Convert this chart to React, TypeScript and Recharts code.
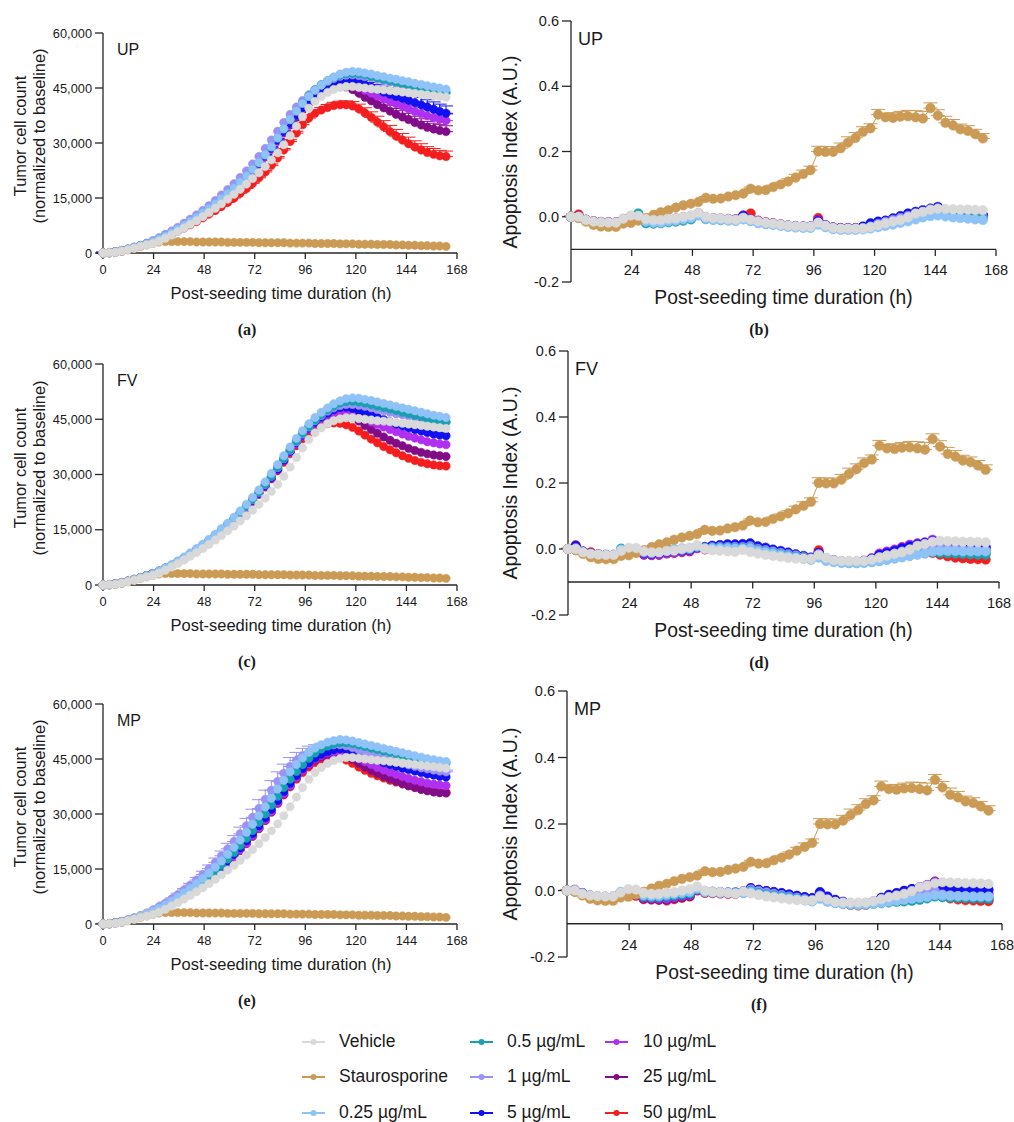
import React from "react";
import { ErrorBar, Line, LineChart, ReferenceLine, XAxis, YAxis } from "recharts";

// scan times (h), one image roughly every 2.96 h
const TIMES = [
  0, 3.0, 5.9, 8.9, 11.8, 14.8, 17.8, 20.7, 23.7, 26.6, 29.6, 32.6, 35.5, 38.5,
  41.4, 44.4, 47.4, 50.3, 53.3, 56.2, 59.2, 62.2, 65.1, 68.1, 71.0, 74.0, 77.0, 79.9,
  82.9, 85.8, 88.8, 91.8, 94.7, 97.7, 100.6, 103.6, 106.6, 109.5, 112.5, 115.4, 118.4, 121.4,
  124.3, 127.3, 130.2, 133.2, 136.2, 139.1, 142.1, 145.0, 148.0, 151.0, 153.9, 156.9, 159.8, 162.8,
];

const X_TICKS_G = [0, 24, 48, 72, 96, 120, 144, 168];
const X_TICKS_A = [24, 48, 72, 96, 120, 144, 168];
const Y_TICKS_G = [0, 15000, 30000, 45000, 60000];
const Y_TICKS_A = [-0.2, 0, 0.2, 0.4, 0.6];

const SERIES = [
  { key: "veh", name: "Vehicle", color: "#d9d9d9" },
  { key: "sts", name: "Staurosporine", color: "#cb9a55" },
  { key: "c025", name: "0.25 µg/mL", color: "#8fc3f7" },
  { key: "c05", name: "0.5 µg/mL", color: "#17a0b0" },
  { key: "c1", name: "1 µg/mL", color: "#9a92f6" },
  { key: "c5", name: "5 µg/mL", color: "#1010f0" },
  { key: "c10", name: "10 µg/mL", color: "#b02ff0" },
  { key: "c25", name: "25 µg/mL", color: "#820c88" },
  { key: "c50", name: "50 µg/mL", color: "#f41e1e" },
];
// highest dose drawn first, vehicle ends up on top
const DRAW_ORDER = ["c50", "c25", "c10", "c5", "c1", "c05", "c025", "sts", "veh"];

// ---- tumour cell count, thousands of cells ----
const VEH_G = [
  0, 0.1, 0.2, 0.5, 0.9, 1.3, 1.8, 2.2, 2.6, 3.2, 4.0, 4.9, 5.8, 6.8,
  7.8, 8.8, 9.9, 11.0, 12.2, 13.4, 14.7, 16.0, 17.4, 18.8, 20.3, 21.9, 23.6, 25.4,
  27.3, 29.5, 32.0, 34.6, 37.2, 39.5, 41.3, 42.7, 43.8, 44.6, 45.1, 45.4, 45.4, 45.2,
  45.0, 44.8, 44.6, 44.5, 44.3, 44.1, 43.9, 43.7, 43.5, 43.3, 43.1, 42.9, 42.7, 42.5,
];
const STS_G = [
  0, 0.1, 0.2, 0.5, 0.9, 1.3, 1.8, 2.2, 2.6, 3.0, 3.1, 3.1, 3.1, 3.1,
  3.1, 3.0, 3.0, 3.0, 3.0, 3.0, 2.9, 2.9, 2.9, 2.9, 2.9, 2.8, 2.8, 2.8,
  2.8, 2.8, 2.7, 2.7, 2.7, 2.7, 2.6, 2.6, 2.6, 2.6, 2.5, 2.5, 2.5, 2.4,
  2.4, 2.4, 2.3, 2.3, 2.3, 2.2, 2.2, 2.1, 2.1, 2.0, 2.0, 1.9, 1.9, 1.8,
];

const UP_G_025 = [
  0, 0.1, 0.3, 0.6, 1.0, 1.5, 2.0, 2.5, 3.1, 3.8, 4.6, 5.5, 6.5, 7.5,
  8.6, 9.7, 10.9, 12.1, 13.4, 14.8, 16.2, 17.7, 19.3, 21.0, 22.8, 24.7, 26.8, 29.0,
  31.4, 33.9, 36.4, 38.7, 40.8, 42.7, 44.4, 45.8, 47.0, 48.0, 48.8, 49.3, 49.5, 49.4,
  49.1, 48.8, 48.4, 48.1, 47.7, 47.4, 47.0, 46.7, 46.3, 46.0, 45.6, 45.3, 45.0, 44.7,
];
const UP_G_05 = [
  0, 0.1, 0.3, 0.6, 1.0, 1.5, 2.0, 2.5, 3.1, 3.8, 4.6, 5.4, 6.4, 7.4,
  8.5, 9.6, 10.8, 12.0, 13.3, 14.7, 16.1, 17.6, 19.2, 20.9, 22.7, 24.6, 26.7, 28.9,
  31.3, 33.8, 36.3, 38.7, 40.9, 42.8, 44.5, 45.9, 47.0, 47.9, 48.5, 48.9, 49.0, 48.9,
  48.6, 48.2, 47.8, 47.4, 47.0, 46.6, 46.2, 45.8, 45.4, 45.0, 44.6, 44.3, 44.0, 43.7,
];
const UP_G_1 = [
  0, 0.1, 0.3, 0.7, 1.1, 1.6, 2.1, 2.7, 3.4, 4.2, 5.1, 6.0, 7.0, 8.1,
  9.2, 10.4, 11.6, 12.9, 14.3, 15.8, 17.3, 18.9, 20.6, 22.4, 24.3, 26.3, 28.5, 30.8,
  33.2, 35.6, 37.8, 39.8, 41.6, 43.2, 44.6, 45.8, 46.8, 47.6, 48.2, 48.5, 48.6, 48.4,
  48.1, 47.8, 47.4, 47.0, 46.6, 46.2, 45.8, 45.5, 45.2, 44.9, 44.6, 44.3, 44.1, 43.9,
];
const UP_G_5 = [
  0, 0.1, 0.3, 0.6, 1.0, 1.5, 2.0, 2.5, 3.1, 3.8, 4.6, 5.4, 6.3, 7.3,
  8.4, 9.5, 10.7, 11.9, 13.2, 14.6, 16.0, 17.5, 19.1, 20.8, 22.6, 24.5, 26.5, 28.6,
  30.8, 33.1, 35.4, 37.6, 39.7, 41.5, 43.0, 44.3, 45.4, 46.3, 46.9, 47.1, 46.9, 46.4,
  45.8, 45.2, 44.5, 43.9, 43.3, 42.7, 42.2, 41.6, 41.0, 40.4, 39.8, 39.2, 38.6, 38.1,
];
const UP_G_10 = [
  0, 0.1, 0.3, 0.6, 1.0, 1.5, 2.0, 2.5, 3.1, 3.7, 4.5, 5.3, 6.2, 7.2,
  8.2, 9.3, 10.5, 11.7, 13.0, 14.4, 15.8, 17.3, 18.9, 20.6, 22.4, 24.3, 26.3, 28.4,
  30.6, 32.9, 35.2, 37.4, 39.4, 41.2, 42.7, 44.0, 45.0, 45.7, 46.1, 46.1, 45.7, 45.1,
  44.4, 43.6, 42.8, 42.1, 41.4, 40.7, 40.0, 39.3, 38.6, 38.0, 37.4, 36.9, 36.5, 36.1,
];
const UP_G_25 = [
  0, 0.1, 0.3, 0.6, 1.0, 1.5, 2.0, 2.5, 3.0, 3.7, 4.4, 5.2, 6.1, 7.1,
  8.1, 9.2, 10.4, 11.6, 12.9, 14.3, 15.7, 17.2, 18.8, 20.5, 22.3, 24.2, 26.2, 28.3,
  30.5, 32.7, 34.9, 37.0, 39.0, 40.8, 42.4, 43.7, 44.7, 45.3, 45.5, 45.3, 44.6, 43.6,
  42.5, 41.5, 40.5, 39.6, 38.7, 37.8, 37.1, 36.4, 35.6, 34.9, 34.3, 33.8, 33.4, 33.1,
];
const UP_G_50 = [
  0, 0.1, 0.2, 0.5, 0.9, 1.3, 1.8, 2.3, 2.8, 3.4, 4.2, 5.0, 5.9, 6.8,
  7.7, 8.6, 9.6, 10.6, 11.6, 12.7, 13.8, 15.0, 16.3, 17.6, 19.0, 20.5, 22.1, 23.9,
  25.9, 28.1, 30.4, 32.7, 35.0, 36.8, 38.1, 39.0, 39.7, 40.2, 40.4, 40.4, 40.1, 39.3,
  38.2, 37.0, 35.7, 34.4, 33.1, 31.9, 30.8, 29.8, 28.9, 28.1, 27.4, 26.9, 26.5, 26.3,
];
// upper SEM (thousands) where the caps show in panel (a)
const UP_G_5_ERR = [
  0.2, 0.2, 0.2, 0.2, 0.2, 0.2, 0.2, 0.2, 0.2, 0.2, 0.2, 0.2, 0.2, 0.2,
  0.2, 0.2, 0.2, 0.2, 0.3, 0.3, 0.3, 0.3, 0.3, 0.3, 0.3, 0.3, 0.4, 0.4,
  0.4, 0.4, 0.4, 0.5, 0.5, 0.5, 0.6, 0.6, 0.7, 0.7, 0.8, 0.9, 1.0, 1.1,
  1.2, 1.3, 1.5, 1.6, 1.7, 1.8, 1.8, 1.9, 1.9, 2.0, 2.0, 2.0, 2.0, 2.0,
];
const UP_G_10_ERR = [
  0.2, 0.2, 0.2, 0.2, 0.2, 0.2, 0.2, 0.2, 0.2, 0.2, 0.2, 0.2, 0.2, 0.2,
  0.2, 0.2, 0.2, 0.2, 0.3, 0.3, 0.3, 0.3, 0.3, 0.3, 0.3, 0.3, 0.4, 0.4,
  0.4, 0.4, 0.4, 0.5, 0.5, 0.5, 0.6, 0.6, 0.7, 0.7, 0.8, 0.9, 1.0, 1.1,
  1.2, 1.3, 1.4, 1.5, 1.6, 1.7, 1.7, 1.8, 1.8, 1.8, 1.8, 1.8, 1.8, 1.8,
];
const UP_G_25_ERR = [
  0.2, 0.2, 0.2, 0.2, 0.2, 0.2, 0.2, 0.2, 0.2, 0.2, 0.2, 0.2, 0.2, 0.2,
  0.2, 0.2, 0.2, 0.2, 0.3, 0.3, 0.3, 0.3, 0.3, 0.3, 0.3, 0.3, 0.4, 0.4,
  0.4, 0.4, 0.4, 0.5, 0.5, 0.5, 0.6, 0.6, 0.7, 0.7, 0.8, 0.9, 1.0, 1.1,
  1.2, 1.3, 1.4, 1.5, 1.6, 1.6, 1.7, 1.7, 1.7, 1.7, 1.6, 1.6, 1.6, 1.6,
];
const UP_G_50_ERR = [
  0.2, 0.2, 0.2, 0.2, 0.2, 0.2, 0.2, 0.2, 0.2, 0.2, 0.2, 0.2, 0.2, 0.2,
  0.2, 0.2, 0.2, 0.2, 0.3, 0.3, 0.3, 0.3, 0.3, 0.3, 0.3, 0.3, 0.4, 0.4,
  0.4, 0.4, 0.5, 0.5, 0.6, 0.6, 0.7, 0.7, 0.8, 0.9, 1.0, 1.1, 1.2, 1.3,
  1.4, 1.5, 1.6, 1.7, 1.7, 1.8, 1.8, 1.8, 1.7, 1.7, 1.6, 1.6, 1.5, 1.5,
];

const FV_G_025 = [
  0, 0.1, 0.3, 0.6, 1.0, 1.5, 2.0, 2.5, 3.1, 3.8, 4.6, 5.5, 6.5, 7.6,
  8.7, 9.9, 11.1, 12.4, 13.8, 15.3, 16.8, 18.4, 20.1, 21.9, 23.8, 25.8, 28.0, 30.3,
  32.7, 35.1, 37.5, 39.8, 41.9, 43.8, 45.5, 46.9, 48.1, 49.2, 50.0, 50.6, 50.8, 50.7,
  50.4, 50.1, 49.7, 49.3, 48.9, 48.5, 48.1, 47.7, 47.3, 46.9, 46.5, 46.1, 45.8, 45.5,
];
const FV_G_05 = [
  0, 0.1, 0.3, 0.6, 1.0, 1.5, 2.0, 2.5, 3.1, 3.8, 4.6, 5.4, 6.4, 7.4,
  8.5, 9.6, 10.8, 12.1, 13.5, 14.9, 16.4, 18.0, 19.6, 21.4, 23.3, 25.3, 27.4, 29.6,
  32.0, 34.4, 36.8, 39.1, 41.2, 43.1, 44.8, 46.3, 47.6, 48.6, 49.4, 49.8, 49.9, 49.7,
  49.4, 49.0, 48.6, 48.2, 47.8, 47.4, 46.9, 46.5, 46.1, 45.7, 45.3, 44.9, 44.5, 44.2,
];
const FV_G_1 = [
  0, 0.1, 0.3, 0.6, 1.0, 1.5, 2.0, 2.5, 3.1, 3.8, 4.6, 5.4, 6.4, 7.4,
  8.5, 9.6, 10.8, 12.1, 13.5, 14.9, 16.4, 18.0, 19.6, 21.3, 23.2, 25.2, 27.3, 29.5,
  31.9, 34.3, 36.6, 38.9, 41.0, 42.9, 44.6, 46.0, 47.2, 48.1, 48.7, 49.0, 49.0, 48.8,
  48.5, 48.1, 47.7, 47.3, 46.9, 46.5, 46.2, 45.9, 45.6, 45.3, 45.0, 44.7, 44.5, 44.3,
];
const FV_G_5 = [
  0, 0.1, 0.3, 0.6, 1.0, 1.5, 2.0, 2.5, 3.1, 3.7, 4.5, 5.3, 6.3, 7.3,
  8.4, 9.5, 10.7, 12.0, 13.4, 14.8, 16.3, 17.9, 19.5, 21.2, 23.0, 24.9, 27.0, 29.2,
  31.5, 33.9, 36.3, 38.6, 40.7, 42.6, 44.2, 45.6, 46.7, 47.6, 48.2, 48.3, 48.0, 47.4,
  46.8, 46.1, 45.5, 44.9, 44.3, 43.7, 43.2, 42.7, 42.2, 41.8, 41.4, 41.0, 40.7, 40.5,
];
const FV_G_10 = [
  0, 0.1, 0.3, 0.6, 1.0, 1.5, 2.0, 2.5, 3.1, 3.7, 4.5, 5.3, 6.2, 7.2,
  8.3, 9.4, 10.6, 11.9, 13.3, 14.7, 16.2, 17.8, 19.4, 21.1, 22.9, 24.8, 26.9, 29.1,
  31.4, 33.8, 36.1, 38.3, 40.4, 42.3, 43.9, 45.2, 46.2, 46.8, 47.0, 46.8, 46.3, 45.7,
  45.0, 44.3, 43.6, 42.9, 42.2, 41.6, 41.0, 40.4, 39.9, 39.4, 38.9, 38.6, 38.3, 38.1,
];
const FV_G_25 = [
  0, 0.1, 0.3, 0.6, 1.0, 1.5, 2.0, 2.5, 3.1, 3.7, 4.5, 5.3, 6.2, 7.2,
  8.3, 9.4, 10.6, 11.9, 13.2, 14.6, 16.1, 17.7, 19.3, 21.0, 22.8, 24.7, 26.8, 29.0,
  31.3, 33.7, 36.0, 38.2, 40.3, 42.2, 43.8, 45.1, 46.1, 46.6, 46.8, 46.4, 45.6, 44.5,
  43.3, 42.2, 41.2, 40.2, 39.3, 38.5, 37.8, 37.1, 36.5, 36.0, 35.6, 35.3, 35.1, 34.9,
];
const FV_G_50 = [
  0, 0.1, 0.3, 0.6, 1.0, 1.5, 2.0, 2.5, 3.1, 3.7, 4.5, 5.3, 6.2, 7.2,
  8.3, 9.4, 10.6, 11.9, 13.2, 14.6, 16.1, 17.6, 19.2, 20.9, 22.7, 24.6, 26.6, 28.8,
  31.0, 33.3, 35.6, 37.8, 39.7, 41.2, 42.4, 43.3, 43.8, 44.0, 43.9, 43.5, 42.8, 41.8,
  40.7, 39.6, 38.6, 37.6, 36.7, 35.9, 35.1, 34.4, 33.8, 33.3, 32.9, 32.6, 32.4, 32.3,
];

const MP_G_025 = [
  0, 0.1, 0.3, 0.6, 1.1, 1.6, 2.2, 2.8, 3.5, 4.3, 5.2, 6.2, 7.3, 8.5,
  9.7, 11.0, 12.4, 13.9, 15.5, 17.2, 19.0, 20.9, 22.9, 25.0, 27.2, 29.5, 31.9, 34.3,
  36.8, 39.2, 41.5, 43.5, 45.3, 46.8, 48.0, 48.9, 49.6, 50.0, 50.3, 50.2, 49.9, 49.5,
  49.1, 48.7, 48.3, 47.9, 47.5, 47.1, 46.7, 46.3, 45.9, 45.5, 45.1, 44.8, 44.5, 44.3,
];
const MP_G_05 = [
  0, 0.1, 0.3, 0.6, 1.0, 1.5, 2.0, 2.6, 3.2, 4.0, 4.8, 5.7, 6.7, 7.8,
  9.0, 10.2, 11.5, 12.9, 14.4, 16.0, 17.7, 19.5, 21.4, 23.4, 25.5, 27.7, 30.0, 32.4,
  34.8, 37.2, 39.5, 41.6, 43.5, 45.2, 46.6, 47.7, 48.5, 49.1, 49.4, 49.4, 49.2, 48.8,
  48.4, 48.0, 47.6, 47.2, 46.8, 46.4, 46.0, 45.6, 45.3, 45.0, 44.6, 44.3, 44.1, 43.9,
];
const MP_G_1 = [
  0, 0.1, 0.3, 0.7, 1.2, 1.7, 2.3, 3.0, 3.8, 4.7, 5.7, 6.8, 8.0, 9.3,
  10.6, 12.0, 13.5, 15.1, 16.8, 18.6, 20.5, 22.5, 24.6, 26.8, 29.1, 31.5, 34.0, 36.5,
  38.9, 41.1, 43.0, 44.6, 45.9, 46.9, 47.7, 48.3, 48.7, 48.9, 48.9, 48.6, 48.1, 47.5,
  46.9, 46.3, 45.7, 45.2, 44.7, 44.2, 43.8, 43.4, 43.0, 42.6, 42.3, 42.0, 41.7, 41.5,
];
// upper SEM (thousands) of the 1 µg/mL arm in panel (e)
const MP_G_1_ERR = [
  0.2, 0.2, 0.2, 0.2, 0.2, 0.2, 0.2, 0.2, 0.2, 0.2, 0.3, 0.3, 0.4, 0.4,
  0.5, 0.7, 0.9, 1.0, 1.2, 1.3, 1.5, 1.6, 1.8, 2.0, 2.2, 2.4, 2.5, 2.6,
  2.6, 2.5, 2.4, 2.2, 2.0, 1.6, 1.2, 1.0, 0.8, 0.7, 0.6, 0.5, 0.5, 0.5,
  0.5, 0.5, 0.5, 0.5, 0.5, 0.5, 0.5, 0.5, 0.5, 0.5, 0.5, 0.5, 0.5, 0.5,
];
const MP_G_5 = [
  0, 0.1, 0.3, 0.6, 1.0, 1.5, 2.0, 2.6, 3.2, 3.9, 4.7, 5.6, 6.6, 7.6,
  8.7, 9.9, 11.2, 12.6, 14.0, 15.6, 17.2, 19.0, 20.8, 22.7, 24.7, 26.8, 29.0, 31.3,
  33.7, 36.1, 38.4, 40.5, 42.4, 44.0, 45.3, 46.3, 47.0, 47.5, 47.8, 47.6, 47.1, 46.4,
  45.8, 45.2, 44.6, 44.0, 43.5, 43.0, 42.5, 42.1, 41.7, 41.3, 40.9, 40.6, 40.3, 40.1,
];
const MP_G_10 = [
  0, 0.1, 0.3, 0.6, 1.0, 1.5, 2.0, 2.5, 3.1, 3.8, 4.6, 5.5, 6.4, 7.4,
  8.5, 9.7, 10.9, 12.2, 13.6, 15.1, 16.7, 18.4, 20.2, 22.1, 24.1, 26.2, 28.4, 30.7,
  33.1, 35.5, 37.8, 40.0, 41.9, 43.6, 45.0, 46.0, 46.7, 47.0, 47.0, 46.6, 45.9, 45.1,
  44.3, 43.5, 42.7, 42.0, 41.4, 40.8, 40.2, 39.7, 39.2, 38.8, 38.4, 38.1, 37.9, 37.7,
];
const MP_G_25 = [
  0, 0.1, 0.3, 0.6, 1.0, 1.5, 2.0, 2.5, 3.1, 3.8, 4.6, 5.5, 6.4, 7.4,
  8.5, 9.6, 10.8, 12.1, 13.5, 15.0, 16.6, 18.3, 20.1, 22.0, 24.0, 26.1, 28.3, 30.6,
  33.0, 35.4, 37.7, 39.9, 41.8, 43.4, 44.7, 45.6, 46.2, 46.5, 46.4, 45.8, 44.9, 43.8,
  42.8, 41.9, 41.1, 40.3, 39.6, 38.9, 38.3, 37.7, 37.2, 36.7, 36.3, 36.0, 35.8, 35.7,
];
const MP_G_50 = [
  0, 0.1, 0.3, 0.6, 1.0, 1.5, 2.0, 2.5, 3.1, 3.8, 4.6, 5.4, 6.3, 7.3,
  8.4, 9.5, 10.7, 12.0, 13.4, 14.9, 16.5, 18.2, 20.0, 21.9, 23.9, 26.0, 28.2, 30.5,
  32.9, 35.2, 37.4, 39.5, 41.3, 42.8, 44.0, 44.9, 45.4, 45.6, 45.4, 44.7, 43.8, 42.8,
  41.9, 41.1, 40.4, 39.8, 39.2, 38.7, 38.2, 37.7, 37.3, 36.9, 36.5, 36.2, 36.0, 35.9,
];

// ---- apoptosis index (A.U.) ----
const VEH_A = [
  0.000, 0.000, -0.010, -0.015, -0.017, -0.018, -0.018, -0.006, 0.004, 0.003, -0.007, -0.010, -0.010, -0.006,
  -0.005, 0.000, 0.004, 0.012, 0.000, -0.004, -0.005, -0.007, -0.009, -0.003, -0.009, -0.014, -0.018, -0.021,
  -0.024, -0.027, -0.029, -0.030, -0.030, -0.018, -0.027, -0.034, -0.036, -0.036, -0.036, -0.036, -0.032, -0.026,
  -0.020, -0.015, -0.010, -0.002, 0.010, 0.015, 0.022, 0.025, 0.024, 0.023, 0.022, 0.022, 0.021, 0.020,
];
const STS_A = [
  0.000, -0.004, -0.015, -0.025, -0.030, -0.031, -0.031, -0.021, -0.019, -0.012, -0.004, 0.006, 0.014, 0.020,
  0.028, 0.035, 0.040, 0.045, 0.058, 0.055, 0.056, 0.062, 0.066, 0.071, 0.086, 0.081, 0.082, 0.091,
  0.099, 0.108, 0.120, 0.131, 0.143, 0.200, 0.199, 0.199, 0.210, 0.227, 0.242, 0.260, 0.271, 0.313,
  0.305, 0.303, 0.307, 0.308, 0.305, 0.301, 0.333, 0.310, 0.288, 0.280, 0.268, 0.263, 0.253, 0.240,
];
// upper SEM for staurosporine
const STS_A_ERR = [
  0.003, 0.003, 0.003, 0.003, 0.003, 0.003, 0.003, 0.003, 0.003, 0.003, 0.003, 0.003, 0.003, 0.003,
  0.003, 0.003, 0.003, 0.003, 0.004, 0.004, 0.004, 0.004, 0.004, 0.005, 0.005, 0.005, 0.006, 0.006,
  0.007, 0.008, 0.010, 0.012, 0.012, 0.016, 0.016, 0.016, 0.016, 0.018, 0.016, 0.016, 0.014, 0.016,
  0.012, 0.016, 0.016, 0.018, 0.020, 0.022, 0.016, 0.018, 0.020, 0.018, 0.016, 0.016, 0.015, 0.015,
];

const UP_A_025 = [
  0.000, -0.003, -0.012, -0.017, -0.019, -0.020, -0.020, -0.010, -0.002, -0.002, -0.015, -0.018, -0.018, -0.014,
  -0.012, -0.008, -0.004, 0.004, -0.006, -0.009, -0.010, -0.012, -0.013, -0.008, -0.013, -0.020, -0.023, -0.025,
  -0.028, -0.031, -0.033, -0.034, -0.034, -0.024, -0.032, -0.038, -0.040, -0.040, -0.040, -0.039, -0.036, -0.032,
  -0.028, -0.024, -0.019, -0.014, -0.008, -0.002, 0.002, 0.004, 0.001, -0.002, -0.004, -0.006, -0.008, -0.010,
];
const UP_A_05 = [
  0.000, -0.002, -0.011, -0.016, -0.018, -0.019, -0.019, -0.008, 0.002, 0.010, -0.020, -0.021, -0.020, -0.017,
  -0.015, -0.012, -0.008, 0.005, -0.007, -0.009, -0.010, -0.010, -0.011, -0.006, -0.012, -0.017, -0.021, -0.023,
  -0.026, -0.029, -0.031, -0.032, -0.032, -0.022, -0.030, -0.036, -0.038, -0.038, -0.038, -0.037, -0.033, -0.027,
  -0.022, -0.017, -0.012, -0.006, 0.000, 0.004, 0.008, 0.008, 0.005, 0.002, 0.000, -0.002, -0.004, -0.005,
];
const UP_A_1 = [
  0.000, 0.000, -0.010, -0.015, -0.017, -0.018, -0.018, -0.008, 0.000, 0.000, -0.012, -0.014, -0.014, -0.010,
  -0.008, -0.004, 0.000, 0.008, -0.003, -0.006, -0.007, -0.009, -0.010, -0.004, -0.011, -0.017, -0.020, -0.022,
  -0.025, -0.028, -0.030, -0.031, -0.031, -0.020, -0.029, -0.035, -0.037, -0.037, -0.037, -0.035, -0.030, -0.022,
  -0.016, -0.010, -0.004, 0.002, 0.008, 0.014, 0.020, 0.014, 0.008, 0.006, 0.004, 0.002, 0.000, -0.002,
];
const UP_A_5 = [
  0.000, -0.002, -0.011, -0.016, -0.018, -0.019, -0.019, -0.010, -0.004, 0.002, -0.010, -0.012, -0.012, -0.008,
  -0.006, -0.002, 0.002, 0.010, -0.002, -0.005, -0.006, -0.008, -0.009, 0.002, -0.008, -0.014, -0.018, -0.021,
  -0.024, -0.027, -0.029, -0.030, -0.030, -0.014, -0.026, -0.033, -0.035, -0.035, -0.035, -0.030, -0.020, -0.015,
  -0.012, -0.005, 0.002, 0.010, 0.015, 0.020, 0.025, 0.030, 0.012, 0.010, 0.009, 0.008, 0.006, 0.005,
];
const UP_A_10 = [
  0.000, -0.001, -0.010, -0.015, -0.017, -0.018, -0.018, -0.008, 0.000, 0.000, -0.012, -0.014, -0.013, -0.009,
  -0.007, -0.003, 0.001, 0.009, -0.003, -0.006, -0.007, -0.008, -0.009, 0.004, -0.009, -0.016, -0.019, -0.022,
  -0.025, -0.028, -0.030, -0.031, -0.031, -0.012, -0.027, -0.034, -0.036, -0.036, -0.036, -0.032, -0.024, -0.018,
  -0.014, -0.008, -0.002, 0.005, 0.010, 0.015, 0.020, 0.018, 0.010, 0.008, 0.006, 0.005, 0.004, 0.003,
];
const UP_A_25 = [
  0.000, 0.002, -0.010, -0.015, -0.017, -0.018, -0.018, -0.008, 0.000, 0.001, -0.011, -0.013, -0.013, -0.009,
  -0.007, -0.003, 0.001, 0.009, -0.003, -0.006, -0.007, -0.008, -0.009, 0.003, -0.010, -0.016, -0.019, -0.022,
  -0.025, -0.028, -0.030, -0.031, -0.031, -0.010, -0.027, -0.034, -0.036, -0.036, -0.036, -0.033, -0.025, -0.019,
  -0.015, -0.009, -0.003, 0.003, 0.008, 0.012, 0.016, 0.014, 0.008, 0.007, 0.006, 0.005, 0.004, 0.003,
];
const UP_A_50 = [
  0.000, 0.007, -0.009, -0.014, -0.016, -0.017, -0.017, -0.007, 0.001, 0.002, -0.010, -0.012, -0.012, -0.008,
  -0.006, -0.002, 0.002, 0.010, -0.002, -0.005, -0.006, -0.007, -0.008, 0.000, 0.010, -0.012, -0.017, -0.020,
  -0.024, -0.027, -0.029, -0.030, -0.030, -0.004, -0.026, -0.033, -0.035, -0.035, -0.035, -0.032, -0.026, -0.020,
  -0.015, -0.010, -0.004, 0.002, 0.007, 0.011, 0.015, 0.013, 0.009, 0.008, 0.007, 0.006, 0.005, 0.005,
];

const FV_A_025 = [
  0.000, -0.003, -0.012, -0.016, -0.018, -0.019, -0.019, -0.002, 0.000, -0.002, -0.005, -0.006, -0.005, -0.002,
  0.000, 0.002, 0.003, 0.008, 0.002, 0.002, 0.002, 0.002, 0.001, 0.001, 0.002, -0.006, -0.010, -0.014,
  -0.018, -0.022, -0.026, -0.030, -0.033, -0.026, -0.036, -0.040, -0.042, -0.043, -0.043, -0.042, -0.040, -0.037,
  -0.033, -0.029, -0.025, -0.021, -0.017, -0.013, -0.008, -0.006, -0.006, -0.006, -0.007, -0.007, -0.007, -0.007,
];
const FV_A_05 = [
  0.000, -0.002, -0.011, -0.016, -0.018, -0.019, -0.019, 0.001, -0.003, -0.004, -0.008, -0.010, -0.008, -0.005,
  -0.003, -0.001, 0.001, 0.008, 0.002, 0.003, 0.004, 0.004, 0.003, 0.003, 0.004, -0.004, -0.008, -0.012,
  -0.016, -0.020, -0.024, -0.028, -0.031, -0.022, -0.034, -0.038, -0.041, -0.042, -0.042, -0.041, -0.039, -0.036,
  -0.032, -0.028, -0.024, -0.020, -0.016, -0.013, -0.010, -0.012, -0.013, -0.014, -0.015, -0.016, -0.017, -0.017,
];
const FV_A_1 = [
  0.000, 0.002, -0.010, -0.015, -0.017, -0.018, -0.018, -0.006, -0.002, -0.002, -0.010, -0.012, -0.010, -0.006,
  -0.004, -0.002, 0.000, 0.008, 0.003, 0.005, 0.006, 0.006, 0.006, 0.006, 0.008, 0.000, -0.004, -0.008,
  -0.012, -0.016, -0.020, -0.025, -0.029, -0.016, -0.031, -0.036, -0.039, -0.040, -0.040, -0.038, -0.033, -0.025,
  -0.020, -0.014, -0.008, -0.002, 0.003, 0.008, 0.012, 0.004, 0.002, 0.000, -0.002, -0.003, -0.004, -0.005,
];
const FV_A_5 = [
  0.000, 0.008, -0.008, -0.014, -0.017, -0.018, -0.018, -0.006, -0.004, -0.004, -0.012, -0.014, -0.012, -0.008,
  -0.006, -0.004, -0.002, 0.006, 0.006, 0.010, 0.012, 0.014, 0.014, 0.015, 0.017, 0.008, 0.004, -0.002,
  -0.006, -0.011, -0.016, -0.021, -0.026, -0.012, -0.028, -0.034, -0.037, -0.038, -0.038, -0.036, -0.030, -0.018,
  -0.012, -0.006, 0.002, 0.008, 0.014, 0.018, 0.024, 0.010, 0.009, 0.009, 0.008, 0.008, 0.007, 0.006,
];
const FV_A_10 = [
  0.000, 0.006, -0.010, -0.015, -0.018, -0.019, -0.019, -0.008, -0.006, -0.008, -0.015, -0.017, -0.016, -0.012,
  -0.010, -0.007, -0.005, 0.003, 0.002, 0.004, 0.006, 0.007, 0.007, 0.008, 0.010, 0.002, -0.002, -0.006,
  -0.010, -0.014, -0.019, -0.024, -0.028, -0.014, -0.030, -0.035, -0.038, -0.039, -0.039, -0.036, -0.028, -0.014,
  -0.008, -0.002, 0.006, 0.013, 0.017, 0.020, 0.028, 0.012, 0.008, 0.006, 0.005, 0.004, 0.003, 0.002,
];
const FV_A_25 = [
  0.000, 0.011, -0.010, -0.015, -0.018, -0.019, -0.019, -0.009, -0.008, -0.010, -0.017, -0.018, -0.017, -0.013,
  -0.011, -0.008, -0.006, 0.004, 0.000, 0.002, 0.004, 0.005, 0.005, 0.006, 0.008, 0.000, -0.004, -0.008,
  -0.012, -0.016, -0.020, -0.025, -0.029, -0.012, -0.031, -0.036, -0.039, -0.040, -0.040, -0.037, -0.030, -0.016,
  -0.010, -0.004, 0.004, 0.010, 0.014, 0.017, 0.022, 0.008, 0.002, -0.002, -0.004, -0.006, -0.008, -0.010,
];
const FV_A_50 = [
  0.000, 0.004, -0.008, -0.010, -0.016, -0.018, -0.018, -0.008, -0.007, -0.009, -0.016, -0.018, -0.017, -0.013,
  -0.011, -0.009, -0.007, 0.003, -0.001, 0.001, 0.003, 0.004, 0.004, 0.005, 0.007, -0.001, -0.005, -0.009,
  -0.013, -0.017, -0.021, -0.026, -0.030, -0.004, -0.031, -0.036, -0.039, -0.040, -0.040, -0.038, -0.034, -0.028,
  -0.024, -0.020, -0.016, -0.012, -0.009, -0.006, -0.012, -0.017, -0.022, -0.026, -0.028, -0.030, -0.031, -0.032,
];

const MP_A_025 = [
  0.000, -0.003, -0.012, -0.018, -0.020, -0.021, -0.021, -0.004, 0.000, -0.004, -0.014, -0.016, -0.016, -0.013,
  -0.010, -0.007, -0.004, 0.006, -0.004, -0.006, -0.007, -0.008, -0.009, -0.008, -0.005, -0.011, -0.015, -0.018,
  -0.021, -0.024, -0.027, -0.030, -0.033, -0.025, -0.034, -0.038, -0.041, -0.042, -0.043, -0.042, -0.040, -0.037,
  -0.034, -0.031, -0.028, -0.025, -0.022, -0.019, -0.014, -0.015, -0.016, -0.017, -0.017, -0.018, -0.018, -0.018,
];
const MP_A_05 = [
  0.000, -0.002, -0.010, -0.017, -0.019, -0.020, -0.020, -0.006, -0.004, -0.008, -0.018, -0.020, -0.020, -0.018,
  -0.015, -0.012, -0.009, 0.004, -0.004, -0.005, -0.006, -0.007, -0.007, -0.006, -0.002, -0.008, -0.012, -0.015,
  -0.018, -0.021, -0.025, -0.028, -0.031, -0.022, -0.032, -0.037, -0.040, -0.042, -0.043, -0.042, -0.040, -0.038,
  -0.036, -0.034, -0.033, -0.031, -0.028, -0.024, -0.018, -0.020, -0.021, -0.022, -0.023, -0.024, -0.024, -0.025,
];
const MP_A_1 = [
  0.000, 0.002, -0.008, -0.016, -0.018, -0.019, -0.019, -0.008, -0.004, -0.006, -0.016, -0.018, -0.018, -0.016,
  -0.013, -0.010, -0.008, 0.005, -0.003, -0.004, -0.005, -0.006, -0.006, -0.004, 0.003, -0.002, -0.006, -0.010,
  -0.014, -0.018, -0.022, -0.026, -0.029, -0.015, -0.028, -0.035, -0.039, -0.042, -0.043, -0.041, -0.037, -0.031,
  -0.026, -0.021, -0.016, -0.012, -0.008, -0.005, -0.002, -0.012, -0.015, -0.017, -0.018, -0.019, -0.020, -0.020,
];
const MP_A_5 = [
  0.000, 0.000, -0.008, -0.015, -0.018, -0.019, -0.019, -0.008, -0.004, -0.006, -0.018, -0.020, -0.020, -0.018,
  -0.015, -0.012, -0.010, 0.004, -0.003, -0.004, -0.005, -0.006, -0.006, -0.003, 0.007, 0.002, -0.002, -0.005,
  -0.008, -0.012, -0.016, -0.020, -0.023, -0.005, -0.018, -0.028, -0.034, -0.038, -0.040, -0.038, -0.033, -0.022,
  -0.013, -0.008, -0.001, 0.004, 0.009, 0.015, 0.022, 0.008, 0.007, 0.006, 0.005, 0.004, 0.003, 0.002,
];
const MP_A_10 = [
  0.000, 0.002, -0.008, -0.017, -0.019, -0.020, -0.020, -0.009, -0.006, -0.010, -0.021, -0.023, -0.024, -0.024,
  -0.020, -0.016, -0.013, 0.003, -0.004, -0.005, -0.006, -0.007, -0.007, -0.003, 0.006, 0.001, -0.002, -0.005,
  -0.009, -0.013, -0.017, -0.021, -0.024, -0.007, -0.020, -0.030, -0.035, -0.039, -0.041, -0.039, -0.034, -0.024,
  -0.015, -0.009, -0.002, 0.004, 0.010, 0.016, 0.025, 0.000, -0.004, -0.006, -0.008, -0.009, -0.010, -0.011,
];
const MP_A_25 = [
  0.000, 0.000, -0.009, -0.018, -0.020, -0.021, -0.021, -0.010, -0.008, -0.012, -0.024, -0.026, -0.027, -0.028,
  -0.024, -0.020, -0.016, 0.002, -0.005, -0.006, -0.007, -0.008, -0.008, -0.004, 0.005, 0.000, -0.003, -0.006,
  -0.010, -0.014, -0.018, -0.022, -0.025, -0.008, -0.022, -0.031, -0.036, -0.040, -0.042, -0.040, -0.035, -0.025,
  -0.016, -0.010, -0.003, 0.003, 0.009, 0.016, 0.027, -0.005, -0.012, -0.016, -0.019, -0.021, -0.023, -0.025,
];
const MP_A_50 = [
  0.000, -0.002, -0.010, -0.019, -0.021, -0.022, -0.022, -0.012, -0.010, -0.016, -0.026, -0.027, -0.028, -0.030,
  -0.026, -0.022, -0.018, 0.000, -0.007, -0.008, -0.009, -0.010, -0.010, -0.006, 0.002, -0.003, -0.006, -0.009,
  -0.013, -0.017, -0.021, -0.025, -0.028, -0.012, -0.026, -0.034, -0.039, -0.043, -0.045, -0.043, -0.038, -0.030,
  -0.022, -0.017, -0.012, -0.008, -0.005, -0.003, 0.000, -0.018, -0.024, -0.027, -0.029, -0.030, -0.031, -0.032,
];

const FONT = '"Liberation Sans", Arial, Helvetica, sans-serif';
const SERIF = '"Liberation Serif", "Times New Roman", serif';
const INK = "#1a1a1a";
const AXIS = "#262626";
const APO_MIN = -0.2;
const APO_MAX = 0.6;
const APO_BASE = -0.1; // x axis sits here on the apoptosis panels

type Box = { x0: number; x1: number; y0: number; y1: number };
type Sets = Record<string, number[]>;
type PanelProps = { tag: string; letter: string; box: Box; sets: Sets; errs: Sets };

const GROWTH_PANELS: PanelProps[] = [
  {
    tag: "UP", letter: "(a)", box: { x0: 103, x1: 457, y0: 33, y1: 253 },
    sets: { veh: VEH_G, sts: STS_G, c025: UP_G_025, c05: UP_G_05, c1: UP_G_1, c5: UP_G_5, c10: UP_G_10, c25: UP_G_25, c50: UP_G_50 },
    errs: { c5: UP_G_5_ERR, c10: UP_G_10_ERR, c25: UP_G_25_ERR, c50: UP_G_50_ERR },
  },
  {
    tag: "FV", letter: "(c)", box: { x0: 103, x1: 457, y0: 364, y1: 585 },
    sets: { veh: VEH_G, sts: STS_G, c025: FV_G_025, c05: FV_G_05, c1: FV_G_1, c5: FV_G_5, c10: FV_G_10, c25: FV_G_25, c50: FV_G_50 },
    errs: {},
  },
  {
    tag: "MP", letter: "(e)", box: { x0: 103, x1: 457, y0: 704, y1: 924 },
    sets: { veh: VEH_G, sts: STS_G, c025: MP_G_025, c05: MP_G_05, c1: MP_G_1, c5: MP_G_5, c10: MP_G_10, c25: MP_G_25, c50: MP_G_50 },
    errs: { c1: MP_G_1_ERR },
  },
];

const APO_PANELS: PanelProps[] = [
  {
    tag: "UP", letter: "(b)", box: { x0: 571, x1: 996, y0: 21, y1: 282 },
    sets: { veh: VEH_A, sts: STS_A, c025: UP_A_025, c05: UP_A_05, c1: UP_A_1, c5: UP_A_5, c10: UP_A_10, c25: UP_A_25, c50: UP_A_50 },
    errs: { sts: STS_A_ERR },
  },
  {
    tag: "FV", letter: "(d)", box: { x0: 568, x1: 999, y0: 351, y1: 615 },
    sets: { veh: VEH_A, sts: STS_A, c025: FV_A_025, c05: FV_A_05, c1: FV_A_1, c5: FV_A_5, c10: FV_A_10, c25: FV_A_25, c50: FV_A_50 },
    errs: { sts: STS_A_ERR },
  },
  {
    tag: "MP", letter: "(f)", box: { x0: 567, x1: 1002, y0: 691, y1: 957 },
    sets: { veh: VEH_A, sts: STS_A, c025: MP_A_025, c05: MP_A_05, c1: MP_A_1, c5: MP_A_5, c10: MP_A_10, c25: MP_A_25, c50: MP_A_50 },
    errs: { sts: STS_A_ERR },
  },
];

const colorOf = (k: string) => SERIES.find((s) => s.key === k)!.color;

function Note({ x, y, size, children, anchor = "middle", weight, family = FONT, rotate = false, lineHeight }: any) {
  const tx = anchor === "middle" ? "-50%" : anchor === "end" ? "-100%" : "0";
  return (
    <div
      style={{
        position: "absolute",
        left: x,
        top: y,
        transform: `translate(${tx}, -50%)${rotate ? " rotate(-90deg)" : ""}`,
        fontSize: size,
        fontWeight: weight,
        fontFamily: family,
        color: INK,
        whiteSpace: "nowrap",
        textAlign: "center",
        lineHeight: lineHeight ?? 1.1,
      }}
    >
      {children}
    </div>
  );
}

// one row per scan; error columns hold [below, above] so only the upper bar shows
function buildRows(sets: Sets, errs: Sets, scale: number) {
  return TIMES.map((t, i) => {
    const r: Record<string, any> = { t };
    Object.entries(sets).forEach(([k, arr]) => (r[k] = arr[i] * scale));
    Object.entries(errs).forEach(([k, arr]) => (r[`${k}Err`] = [0, arr[i] * scale]));
    return r;
  });
}

function seriesLines(r: number, errs: Sets) {
  return DRAW_ORDER.map((k) => {
    const c = colorOf(k);
    return (
      <Line
        key={k}
        type="linear"
        dataKey={k}
        stroke={c}
        strokeWidth={1}
        dot={{ r, fill: c, stroke: c, strokeWidth: 0.5 }}
        activeDot={false}
        isAnimationActive={false}
      >
        {errs[k] ? (
          <ErrorBar dataKey={`${k}Err`} direction="y" width={7} stroke={c} strokeWidth={1} isAnimationActive={false} />
        ) : null}
      </Line>
    );
  });
}

function GrowthPanel({ tag, letter, box, sets, errs }: PanelProps) {
  const top = box.y0 - 15;
  const width = 475;
  const height = box.y1 - box.y0 + 60;
  const rows = buildRows(sets, errs, 1000);
  return (
    <>
      <div style={{ position: "absolute", left: 0, top }}>
        <LineChart width={width} height={height} data={rows} margin={{ top: 15, right: width - box.x1, bottom: 15, left: 0 }}>
          <XAxis
            type="number"
            dataKey="t"
            domain={[0, 168]}
            ticks={X_TICKS_G}
            interval={0}
            height={30}
            tickSize={6}
            tickMargin={6}
            axisLine={{ stroke: AXIS, strokeWidth: 1.3 }}
            tickLine={{ stroke: AXIS, strokeWidth: 1.3 }}
            tick={{ fill: INK, fontSize: 12.8, fontFamily: FONT }}
          />
          <YAxis
            type="number"
            domain={[0, 60000]}
            ticks={Y_TICKS_G}
            interval={0}
            width={box.x0}
            tickSize={8}
            tickMargin={3}
            axisLine={{ stroke: AXIS, strokeWidth: 1.3 }}
            tickLine={{ stroke: AXIS, strokeWidth: 1.3 }}
            tick={{ fill: INK, fontSize: 12.8, fontFamily: FONT }}
            tickFormatter={(v: number) => v.toLocaleString("en-US")}
          />
          {seriesLines(4.2, errs)}
        </LineChart>
      </div>
      <Note x={box.x0 + 14} y={box.y0 + 17} size={16} anchor="start">{tag}</Note>
      <Note x={(box.x0 + box.x1) / 2 + 1} y={box.y1 + 40} size={16.5}>Post-seeding time duration (h)</Note>
      <Note x={29.5} y={(box.y0 + box.y1) / 2 - 7} size={16.4} rotate lineHeight="19px">
        Tumor cell count
        <br />
        (normalized to baseline)
      </Note>
      <Note x={247} y={box.y1 + 77} size={16} weight="bold" family={SERIF}>{letter}</Note>
    </>
  );
}

function ApoPanel({ tag, letter, box, sets, errs }: PanelProps) {
  const left = 490;
  const top = box.y0 - 15;
  const width = 1014 - left;
  const height = box.y1 - box.y0 + 60;
  const plotH = box.y1 - box.y0;
  const shift = (plotH * (APO_BASE - APO_MIN)) / (APO_MAX - APO_MIN);
  const axisY = box.y1 - shift;
  const rows = buildRows(sets, errs, 1);
  const tick = (p: any) => {
    const ay = p.y - shift;
    return (
      <g>
        <line x1={p.x} x2={p.x} y1={ay} y2={ay + 6.5} stroke={AXIS} strokeWidth={1.3} />
        <text x={p.x} y={ay + 26} textAnchor="middle" fill={INK} fontSize={14.5} fontFamily={FONT}>
          {p.payload.value}
        </text>
      </g>
    );
  };
  return (
    <>
      <div style={{ position: "absolute", left, top }}>
        <LineChart width={width} height={height} data={rows} margin={{ top: 15, right: left + width - box.x1, bottom: 15, left: 0 }}>
          <XAxis
            type="number"
            dataKey="t"
            domain={[0, 168]}
            ticks={X_TICKS_A}
            interval={0}
            height={30}
            axisLine={false}
            tickLine={false}
            tickSize={0}
            tickMargin={0}
            tick={tick}
          />
          <YAxis
            type="number"
            domain={[APO_MIN, APO_MAX]}
            ticks={Y_TICKS_A}
            interval={0}
            width={box.x0 - left}
            tickSize={9}
            tickMargin={3}
            axisLine={{ stroke: AXIS, strokeWidth: 1.3 }}
            tickLine={{ stroke: AXIS, strokeWidth: 1.3 }}
            tick={{ fill: INK, fontSize: 14.5, fontFamily: FONT }}
            tickFormatter={(v: number) => v.toFixed(1)}
          />
          <ReferenceLine y={APO_BASE} stroke={AXIS} strokeWidth={1.3} />
          {seriesLines(4.8, errs)}
        </LineChart>
      </div>
      <Note x={box.x0 + 7} y={box.y0 + 19} size={18} anchor="start">{tag}</Note>
      <Note x={(box.x0 + box.x1) / 2} y={axisY + 49} size={19.3}>Post-seeding time duration (h)</Note>
      <Note x={511} y={(box.y0 + box.y1) / 2} size={19.3} rotate>Apoptosis Index (A.U.)</Note>
      <Note x={759} y={axisY + 81} size={16} weight="bold" family={SERIF}>{letter}</Note>
    </>
  );
}

const LEGEND_COLS = [
  { line: 302, text: 339 },
  { line: 470, text: 507 },
  { line: 605, text: 643 },
];
const LEGEND_ROWS = [1042, 1077, 1113];

function FigureLegend() {
  return (
    <>
      {SERIES.map((s, i) => {
        const col = LEGEND_COLS[Math.floor(i / 3)];
        const y = LEGEND_ROWS[i % 3];
        return (
          <React.Fragment key={s.key}>
            <svg style={{ position: "absolute", left: col.line, top: y - 6 }} width={24} height={12}>
              <line x1={0} x2={23} y1={6} y2={6} stroke={s.color} strokeWidth={2} />
              <circle cx={11.5} cy={6} r={3} fill={s.color} />
            </svg>
            <Note x={col.text} y={y} size={17.5} anchor="start">{s.name}</Note>
          </React.Fragment>
        );
      })}
    </>
  );
}

export default function App() {
  return (
    <div style={{ position: "absolute", left: 0, top: 0, width: 1014, height: 1122, background: "#fff", overflow: "hidden" }}>
      {GROWTH_PANELS.map((p) => (
        <GrowthPanel key={p.letter} {...p} />
      ))}
      {APO_PANELS.map((p) => (
        <ApoPanel key={p.letter} {...p} />
      ))}
      <FigureLegend />
    </div>
  );
}
